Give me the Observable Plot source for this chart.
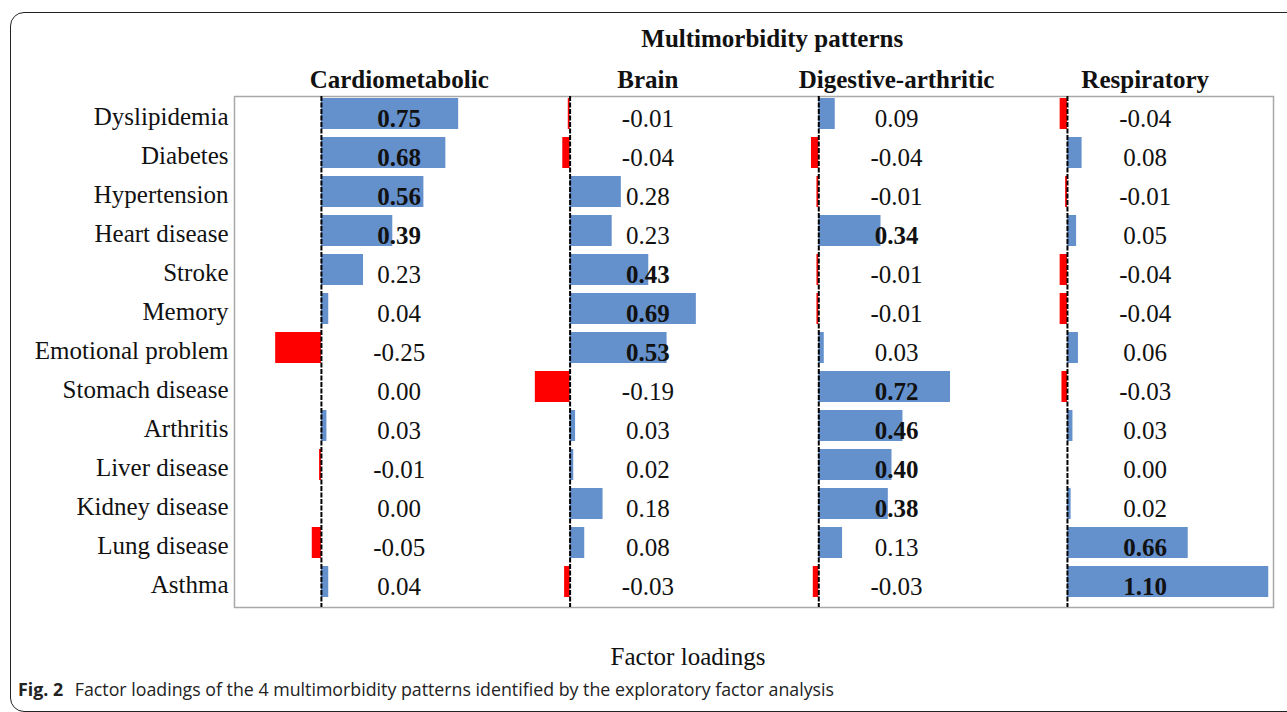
<!DOCTYPE html>
<html>
<head>
<meta charset="utf-8">
<script src="https://cdn.jsdelivr.net/npm/d3@7"></script>
<script src="https://cdn.jsdelivr.net/npm/@observablehq/plot@0.6"></script>
<style>
  html, body { margin: 0; padding: 0; background: #fff; overflow: hidden; }
  body { width: 1287px; height: 712px; position: relative; }
  #box { position: absolute; left: 10px; top: 12px; width: 1300px; height: 700px;
         border: 1.5px solid #222; border-radius: 14px; box-sizing: border-box; }
  #chart { position: absolute; left: 0; top: 0; }
  #xlabel { position: absolute; top: 643px; left: 688px; transform: translateX(-50%);
            font-family: "Liberation Serif", "Times New Roman", serif; font-size: 25px; color: #111; white-space: nowrap; }
  #caption { position: absolute; top: 677px; left: 18px; font-family: "Open Sans", "Noto Sans", sans-serif;
             font-size: 17.8px; color: #222; white-space: nowrap; }
  #caption b { font-weight: 700; margin-right: 7px; }
</style>
</head>
<body>
<div id="box"></div>
<div id="chart"></div>
<div id="xlabel">Factor loadings</div>
<div id="caption"><b>Fig. 2</b> Factor loadings of the 4 multimorbidity patterns identified by the exploratory factor analysis</div>
<script>
const title = "Multimorbidity patterns";
const patterns = ["Cardiometabolic", "Brain", "Digestive-arthritic", "Respiratory"];
const conditions = ["Dyslipidemia", "Diabetes", "Hypertension", "Heart disease", "Stroke", "Memory",
  "Emotional problem", "Stomach disease", "Arthritis", "Liver disease", "Kidney disease", "Lung disease", "Asthma"];
const cardiometabolic = [0.75, 0.68, 0.56, 0.39, 0.23, 0.04, -0.25, 0.00, 0.03, -0.01, 0.00, -0.05, 0.04];
const brain = [-0.01, -0.04, 0.28, 0.23, 0.43, 0.69, 0.53, -0.19, 0.03, 0.02, 0.18, 0.08, -0.03];
const digestiveArthritic = [0.09, -0.04, -0.01, 0.34, -0.01, -0.01, 0.03, 0.72, 0.46, 0.40, 0.38, 0.13, -0.03];
const respiratory = [-0.04, 0.08, -0.01, 0.05, -0.04, -0.04, 0.06, -0.03, 0.03, 0.00, 0.02, 0.66, 1.10];
const boldThreshold = 0.3;

const series = [cardiometabolic, brain, digestiveArthritic, respiratory];
const step = 1.359;      // horizontal spacing between pattern panels (in loading units)
const labelShift = 0.425; // value labels sit to the right of each zero line
const BLUE = "#6490cc", RED = "#ff0000";

const rows = [];
series.forEach((vals, pi) => {
  vals.forEach((v, ci) => {
    rows.push({pattern: patterns[pi], condition: conditions[ci], value: v, base: pi * step,
               bold: v >= boldThreshold});
  });
});
const headers = patterns.map((p, i) => ({name: p, x: i * step + labelShift}));
const zeros = patterns.map((p, i) => i * step);

const chart = Plot.plot({
  width: 1287,
  height: 640,
  marginTop: 96,
  marginBottom: 33,
  marginLeft: 234,
  marginRight: 14,
  style: {fontFamily: "'Liberation Serif', 'Times New Roman', serif", background: "transparent", color: "#111"},
  x: {domain: [-0.475, 5.203], axis: null},
  y: {domain: conditions, paddingInner: 0.213, paddingOuter: 0.089, align: 0.14, label: null},
  marks: [
    Plot.frame({stroke: "#a8a8a8", strokeWidth: 1.5}),
    Plot.barX(rows.filter(d => d.value !== 0), {
      x1: "base", x2: d => d.base + d.value, y: "condition",
      fill: d => d.value < 0 ? RED : BLUE
    }),
    Plot.ruleX(zeros, {stroke: "#000", strokeWidth: 2, strokeDasharray: "5,1.5"}),
    Plot.text(rows.filter(d => !d.bold), {
      x: d => d.base + labelShift, y: "condition", text: d => d.value.toFixed(2),
      fontSize: 25, fill: "#111", dy: 5
    }),
    Plot.text(rows.filter(d => d.bold), {
      x: d => d.base + labelShift, y: "condition", text: d => d.value.toFixed(2),
      fontSize: 25, fontWeight: "bold", fill: "#111", dy: 5
    }),
    Plot.axisY({tickSize: 0, tickPadding: 6, fontSize: 25, label: null, dy: 2.5}),
    Plot.text(headers, {x: "x", text: "name", frameAnchor: "top", lineAnchor: "bottom",
      dy: -9, fontSize: 25, fontWeight: "bold", fill: "#111"}),
    Plot.text([title], {x: (headers[0].x + headers[headers.length - 1].x) / 2, text: d => d,
      frameAnchor: "top", lineAnchor: "bottom", dy: -50, fontSize: 25, fontWeight: "bold", fill: "#111"})
  ]
});
document.getElementById("chart").appendChild(chart);
</script>
</body>
</html>
